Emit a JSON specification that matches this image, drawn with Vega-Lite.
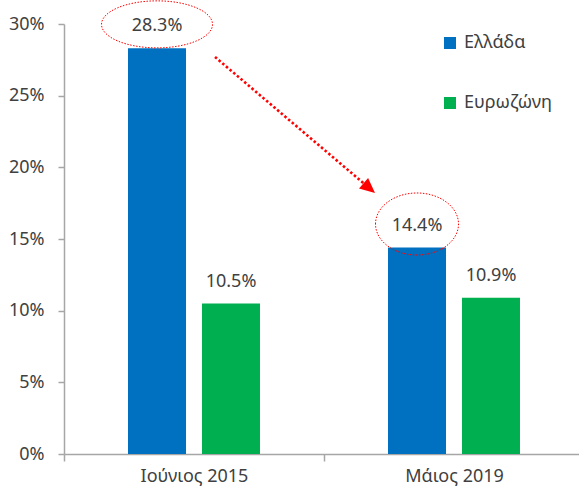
{
  "$schema": "https://vega.github.io/schema/vega-lite/v6.json",
  "width": 515,
  "height": 430,
  "autosize": {"type": "none"},
  "padding": {"left": 64, "top": 24, "right": 0, "bottom": 38},
  "background": "white",
  "config": {
    "font": "Noto Sans",
    "view": {"stroke": null},
    "axis": {"labelColor": "#404040", "labelFontSize": 18, "domainColor": "#A6A6A6", "tickColor": "#A6A6A6", "domainWidth": 1.5, "tickWidth": 1.5, "grid": false, "title": null}
  },
  "data": {
    "values": [
      {"period": "Ιούνιος 2015", "series": "Ελλάδα", "value": 0.283},
      {"period": "Ιούνιος 2015", "series": "Ευρωζώνη", "value": 0.105},
      {"period": "Μάιος 2019", "series": "Ελλάδα", "value": 0.144},
      {"period": "Μάιος 2019", "series": "Ευρωζώνη", "value": 0.109}
    ]
  },
  "encoding": {
    "x": {
      "field": "period", "type": "nominal", "sort": ["Ιούνιος 2015", "Μάιος 2019"],
      "scale": {"paddingInner": 0, "paddingOuter": 0, "range": [0, 520]},
      "axis": {"labelAngle": 0, "tickBand": "extent", "tickSize": 7, "labelPadding": 6}
    },
    "xOffset": {
      "field": "series", "type": "nominal",
      "scale": {"domain": ["Ελλάδα", "Ευρωζώνη"], "paddingInner": 0.216, "paddingOuter": 0.865}
    },
    "y": {
      "field": "value", "type": "quantitative",
      "scale": {"domain": [0, 0.3], "nice": false},
      "axis": {"values": [0, 0.05, 0.1, 0.15, 0.2, 0.25, 0.3], "format": ".0%", "tickSize": 6, "labelPadding": 14}
    }
  },
  "layer": [
    {
      "mark": {"type": "bar"},
      "encoding": {
        "color": {
          "field": "series", "type": "nominal",
          "scale": {"domain": ["Ελλάδα", "Ευρωζώνη"], "range": ["#0070C0", "#00B050"]},
          "legend": {
            "orient": "none", "legendX": 377, "legendY": 10, "title": null, "direction": "vertical",
            "symbolType": "square", "symbolSize": 144, "symbolStrokeWidth": 0, "symbolOpacity": 1,
            "labelFontSize": 18, "labelColor": "#404040", "labelOffset": 5, "rowPadding": 42, "padding": 0
          }
        }
      }
    },
    {
      "mark": {"type": "text", "dy": -22, "baseline": "middle", "fontSize": 18, "color": "#404040"},
      "encoding": {"text": {"field": "value", "type": "quantitative", "format": ".1%"}}
    },
    {
      "transform": [{"filter": "datum.series == 'Ελλάδα' && datum.period == 'Ιούνιος 2015'"}],
      "mark": {"type": "point", "filled": false, "opacity": 1, "color": "#FF0000", "strokeWidth": 1, "strokeDash": [1.5, 1.5], "size": 12321,
        "shape": "M-1,-0.4324C-1,-0.6662,-0.5523,-0.8558,0,-0.8558C0.5523,-0.8558,1,-0.6662,1,-0.4324C1,-0.1986,0.5523,-0.009,0,-0.009C-0.5523,-0.009,-1,-0.1986,-1,-0.4324Z"}
    },
    {
      "transform": [{"filter": "datum.series == 'Ελλάδα' && datum.period == 'Μάιος 2019'"}],
      "mark": {"type": "point", "filled": false, "opacity": 1, "color": "#FF0000", "strokeWidth": 1, "strokeDash": [1.5, 1.5], "size": 6889,
        "shape": "M-1,-0.5687C-1,-0.9813,-0.5523,-1.3157,0,-1.3157C0.5523,-1.3157,1,-0.9813,1,-0.5687C1,-0.1561,0.5523,0.1783,0,0.1783C-0.5523,0.1783,-1,-0.1561,-1,-0.5687Z"}
    },
    {
      "transform": [{"filter": "datum.series == 'Ελλάδα' && datum.period == 'Ιούνιος 2015'"}],
      "mark": {"type": "point", "filled": false, "opacity": 1, "color": "#FF0000", "strokeWidth": 2.6, "strokeDash": [2.5, 2.3], "strokeCap": "butt", "size": 40000,
        "shape": "M0.58,0.086L2.066,1.349"}
    },
    {
      "transform": [{"filter": "datum.series == 'Ελλάδα' && datum.period == 'Ιούνιος 2015'"}],
      "mark": {"type": "point", "filled": true, "opacity": 1, "color": "#FF0000", "strokeWidth": 0, "size": 40000,
        "shape": "M2.18,1.446L2.02,1.402L2.111,1.296Z"}
    }
  ]
}
